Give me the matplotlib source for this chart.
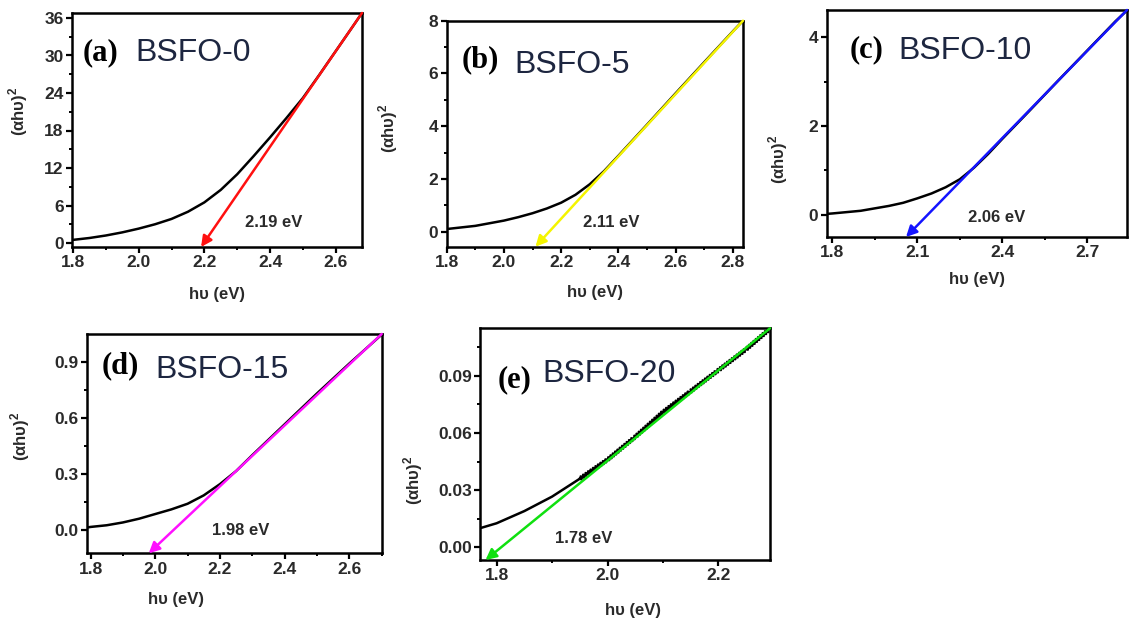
import numpy as np
import matplotlib
matplotlib.use("Agg")
import matplotlib.pyplot as plt
from matplotlib.ticker import MultipleLocator, FormatStrFormatter

plt.rcParams['font.family'] = ['Liberation Sans', 'DejaVu Sans']
plt.rcParams['mathtext.fontset'] = 'custom'
plt.rcParams['mathtext.rm'] = 'Liberation Sans:bold'
plt.rcParams['mathtext.bf'] = 'Liberation Sans:bold'

# ---- data ----
labels = ["(a)", "(b)", "(c)", "(d)", "(e)"]
samples = ["BSFO-0", "BSFO-5", "BSFO-10", "BSFO-15", "BSFO-20"]
gaps = [2.19, 2.11, 2.06, 1.98, 1.78]
gap_text = ["2.19 eV", "2.11 eV", "2.06 eV", "1.98 eV", "1.78 eV"]

xa = [1.80, 1.85, 1.90, 1.95, 2.00, 2.05, 2.10, 2.15, 2.20, 2.25, 2.30, 2.35, 2.40,
      2.45, 2.50, 2.55, 2.60, 2.65, 2.68]
ya = [0.5, 0.8, 1.2, 1.7, 2.3, 3.0, 3.85, 5.0, 6.5, 8.5, 11.0, 13.9, 16.9,
      20.0, 23.2, 26.9, 30.7, 34.5, 36.8]

xb = [1.80, 1.90, 2.00, 2.05, 2.10, 2.15, 2.20, 2.25, 2.30, 2.35, 2.40, 2.50, 2.60, 2.70, 2.80, 2.835]
yb = [0.1, 0.22, 0.42, 0.55, 0.7, 0.88, 1.1, 1.4, 1.8, 2.3, 2.88, 4.06, 5.25, 6.43, 7.6, 8.0]

xc = [1.78, 1.80, 1.90, 2.00, 2.05, 2.10, 2.15, 2.20, 2.25, 2.30, 2.35, 2.40, 2.50, 2.60, 2.70, 2.80, 2.84]
yc = [0.02, 0.03, 0.09, 0.2, 0.27, 0.37, 0.48, 0.62, 0.8, 1.06, 1.37, 1.71, 2.37, 3.04, 3.70, 4.36, 4.6]

xd = [1.79, 1.80, 1.85, 1.90, 1.95, 2.00, 2.05, 2.10, 2.15, 2.20, 2.25, 2.30, 2.40, 2.50, 2.60, 2.70]
yd = [0.013, 0.016, 0.025, 0.04, 0.06, 0.085, 0.11, 0.14, 0.185, 0.245, 0.315, 0.40, 0.565, 0.73, 0.89, 1.045]

xe = [1.77, 1.80, 1.85, 1.90, 1.95, 2.00, 2.05, 2.10, 2.15, 2.20, 2.25, 2.29]
ye = [0.010, 0.0126, 0.019, 0.0266, 0.036, 0.046, 0.058, 0.071, 0.082, 0.093, 0.104, 0.114]

curves = [(xa, ya), (xb, yb), (xc, yc), (xd, yd), (xe, ye)]
colors = ['#ff1010', '#f4f400', '#1414ff', '#ff10ff', '#10e010']

xlims = [(1.797, 2.68), (1.80, 2.835), (1.78, 2.84), (1.79, 2.70), (1.77, 2.293)]
ylims = [(-0.64, 36.8), (-0.57, 8.0), (-0.5, 4.61), (-0.125, 1.048), (-0.0067, 0.115)]
xmajor = [0.2, 0.2, 0.3, 0.2, 0.2]
xminor = [0.1, 0.1, 0.15, 0.1, 0.1]
ymajor = [6, 2, 2, 0.3, 0.03]
yminor = [3, 1, 1, 0.15, 0.015]
yfmt = ['%d', '%d', '%d', '%.1f', '%.2f']

# axes boxes in pixels (left, top, right, bottom)
boxes = [(72, 13, 362, 247), (446.7, 20.7, 743, 246.7), (826.7, 10, 1127, 237),
         (87.3, 334, 381.7, 553.3), (480, 328.3, 770, 560)]
ylab_pos = [(-0.145, 0.58), (-0.158, 0.525), (-0.122, 0.34), (-0.188, 0.535), (-0.19, 0.345)]
xlab_pos = [(0.5, -0.17), (0.5, -0.17), (0.5, -0.154), (0.3, -0.177), (0.527, -0.185)]
tag_pos = [(0.038, 0.80), (0.052, 0.795), (0.078, 0.79), (0.05, 0.823), (0.062, 0.746)]
name_pos = [(0.217, 0.795), (0.23, 0.77), (0.238, 0.785), (0.23, 0.80), (0.214, 0.77)]
gap_pos = [(0.597, 0.085), (0.46, 0.087), (0.47, 0.066), (0.424, 0.084), (0.259, 0.073)]

W, H = 1129, 620
fig = plt.figure(figsize=(W / 100, H / 100), dpi=100)

for i in range(5):
    l, t, r, b = boxes[i]
    ax = fig.add_axes([l / W, 1 - b / H, (r - l) / W, (b - t) / H])
    x, y = curves[i]
    x0, x1 = xlims[i]
    y0, y1 = ylims[i]

    if i == 4:
        # the last sample has a small saw-tooth on the upper part of the curve
        ax.plot(x[:5], y[:5], color='black', lw=1.8, zorder=2)
        wig, = ax.plot(x[4:], y[4:], color='black', lw=1.8, zorder=2)
        wig.set_sketch_params(scale=1.6, length=3, randomness=1)
    else:
        ax.plot(x, y, color='black', lw=1.8, solid_joinstyle='round', zorder=2)

    # extrapolation arrow: from top right corner down to the band gap on the bottom axis
    ax.annotate('', xy=(gaps[i], y0), xytext=(x1, y1),
                arrowprops=dict(arrowstyle='-|>', color=colors[i], lw=1.8,
                                mutation_scale=16, shrinkA=0, shrinkB=0),
                annotation_clip=False, zorder=3)

    ax.set_xlim(x0, x1)
    ax.set_ylim(y0, y1)
    ax.xaxis.set_major_locator(MultipleLocator(xmajor[i]))
    ax.xaxis.set_minor_locator(MultipleLocator(xminor[i]))
    ax.yaxis.set_major_locator(MultipleLocator(ymajor[i]))
    ax.yaxis.set_minor_locator(MultipleLocator(yminor[i]))
    ax.xaxis.set_major_formatter(FormatStrFormatter('%.1f'))
    ax.yaxis.set_major_formatter(FormatStrFormatter(yfmt[i]))

    for s in ax.spines.values():
        s.set_linewidth(1.8)
    ax.tick_params(which='major', direction='out', length=4, width=1.6,
                   labelsize=12.5, top=False, right=False, pad=2, labelcolor='#2a2a2a')
    ax.tick_params(which='minor', direction='out', length=2.5, width=1.4,
                   top=False, right=False)
    for lab in ax.get_xticklabels() + ax.get_yticklabels():
        lab.set_fontweight('bold')

    ax.set_xlabel('hυ (eV)', fontsize=12, fontweight='bold', color='#2a2a2a')
    ax.set_ylabel('(αhυ)$^{2}$', fontsize=12, fontweight='bold', color='#2a2a2a')
    ax.xaxis.set_label_coords(*xlab_pos[i])
    ax.yaxis.set_label_coords(*ylab_pos[i])

    ax.text(*tag_pos[i], labels[i], transform=ax.transAxes, fontsize=22,
            fontweight='bold', family='Liberation Serif', va='baseline', ha='left')
    ax.text(*name_pos[i], samples[i], transform=ax.transAxes, fontsize=23,
            color='#1d2640', va='baseline', ha='left')
    ax.text(*gap_pos[i], gap_text[i], transform=ax.transAxes, fontsize=12,
            fontweight='bold', color='#2a2a2a', va='baseline', ha='left')

fig.savefig('out.png', dpi=100)
